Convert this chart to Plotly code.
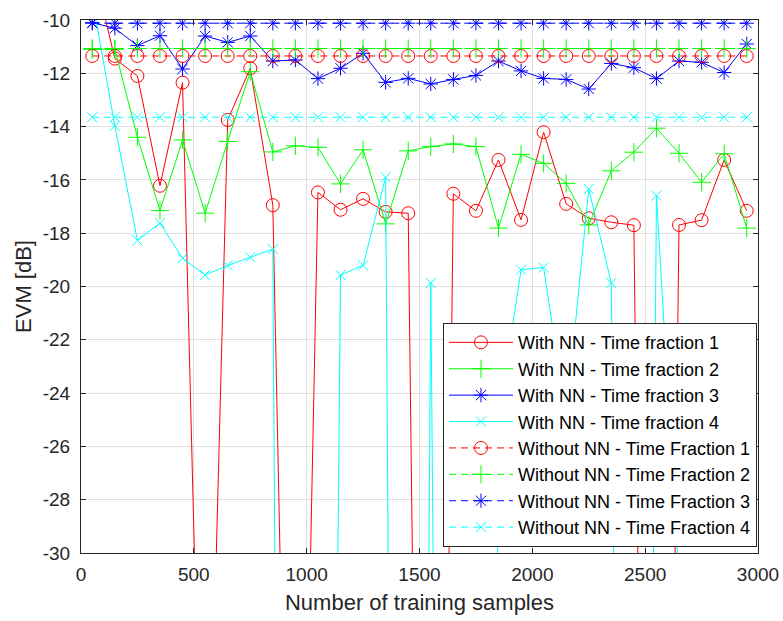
import plotly.graph_objects as go

samples = [50, 150, 250, 350, 450, 550, 650, 750, 850, 950,
           1050, 1150, 1250, 1350, 1450, 1550, 1650, 1750, 1850, 1950,
           2050, 2150, 2250, 2350, 2450, 2550, 2650, 2750, 2850, 2950]

with_nn_tf1 = [-7.9, -11.45, -12.1, -16.22, -12.35, -46.0, -13.75, -11.81, -16.95, -58.0,
               -16.47, -17.12, -16.71, -17.2, -17.25, -87.0, -16.52, -17.16, -15.25, -17.5,
               -14.21, -16.9, -17.44, -17.59, -17.7, -88.0, -17.69, -17.51, -15.25, -17.16]
with_nn_tf2 = [-11.1, -11.1, -14.4, -17.15, -14.5, -17.25, -14.56, -11.94, -14.95, -14.72,
               -14.78, -16.15, -14.87, -17.65, -14.91, -14.75, -14.65, -14.75, -17.81, -15.04,
               -15.38, -16.13, -17.69, -15.66, -14.96, -14.06, -15.0, -16.09, -15.02, -17.81]
with_nn_tf3 = [-10.1, -10.31, -10.96, -10.59, -11.84, -10.6, -10.84, -10.6, -11.54, -11.5,
               -12.2, -11.81, -11.25, -12.34, -12.19, -12.4, -12.23, -12.08, -11.54, -11.91,
               -12.19, -12.23, -12.59, -11.63, -11.79, -12.2, -11.54, -11.59, -11.97, -10.9]
with_nn_tf4 = [-9.2, -13.97, -18.27, -17.62, -18.94, -19.57, -19.21, -18.9, -18.6, -150.0,
               -110.0, -19.57, -19.21, -15.9, -145.0, -19.87, -120.0, -150.0, -25.0, -19.37,
               -19.29, -24.9, -16.34, -19.87, -120.0, -16.59, -31.0, -40.0, -38.0, -45.0]

without_nn_tf1 = [-11.35, -11.35, -11.35, -11.35, -11.35, -11.35, -11.35, -11.35, -11.35, -11.35,
                  -11.35, -11.35, -11.35, -11.35, -11.35, -11.35, -11.35, -11.35, -11.35, -11.35,
                  -11.35, -11.35, -11.35, -11.35, -11.35, -11.35, -11.35, -11.35, -11.35, -11.35]
without_nn_tf2 = [-11.07, -11.07, -11.07, -11.07, -11.07, -11.07, -11.07, -11.07, -11.07, -11.07,
                  -11.07, -11.07, -11.07, -11.07, -11.07, -11.07, -11.07, -11.07, -11.07, -11.07,
                  -11.07, -11.07, -11.07, -11.07, -11.07, -11.07, -11.07, -11.07, -11.07, -11.07]
without_nn_tf3 = [-10.12, -10.12, -10.12, -10.12, -10.12, -10.12, -10.12, -10.12, -10.12, -10.12,
                  -10.12, -10.12, -10.12, -10.12, -10.12, -10.12, -10.12, -10.12, -10.12, -10.12,
                  -10.12, -10.12, -10.12, -10.12, -10.12, -10.12, -10.12, -10.12, -10.12, -10.12]
without_nn_tf4 = [-13.65, -13.65, -13.65, -13.65, -13.65, -13.65, -13.65, -13.65, -13.65, -13.65,
                  -13.65, -13.65, -13.65, -13.65, -13.65, -13.65, -13.65, -13.65, -13.65, -13.65,
                  -13.65, -13.65, -13.65, -13.65, -13.65, -13.65, -13.65, -13.65, -13.65, -13.65]

series_names = ["With NN - Time fraction 1", "With NN - Time fraction 2",
                "With NN - Time fraction 3", "With NN - Time fraction 4",
                "Without NN - Time Fraction 1", "Without NN - Time Fraction 2",
                "Without NN - Time Fraction 3", "Without NN - Time Fraction 4"]

x_tick_vals = [0, 500, 1000, 1500, 2000, 2500, 3000]
x_tick_text = ["0", "500", "1000", "1500", "2000", "2500", "3000"]
y_tick_vals = [-30, -28, -26, -24, -22, -20, -18, -16, -14, -12, -10]
y_tick_text = ["-30", "-28", "-26", "-24", "-22", "-20", "-18", "-16", "-14", "-12", "-10"]

colors = ["#ff0000", "#00ff00", "#0000ff", "#00ffff"]
symbols = ["circle-open", "cross-thin-open", "asterisk-open", "x-thin-open"]
sizes = [13, 13, 12, 10]

all_series = [with_nn_tf1, with_nn_tf2, with_nn_tf3, with_nn_tf4,
              without_nn_tf1, without_nn_tf2, without_nn_tf3, without_nn_tf4]

fig = go.Figure()
for i, ys in enumerate(all_series):
    k = i % 4
    dash = "solid" if i < 4 else "7px,5px"
    fig.add_trace(go.Scatter(
        x=samples, y=ys, name=series_names[i], mode="lines+markers",
        line=dict(color=colors[k], width=1, dash=dash),
        marker=dict(symbol=symbols[k], size=sizes[k], color=colors[k],
                    line=dict(color=colors[k], width=1)),
    ))

font_family = "Liberation Sans, Arial, Helvetica, sans-serif"
axis_color = "#262626"

fig.update_layout(
    width=783, height=621,
    margin=dict(l=81, r=25, t=20, b=68, pad=0, autoexpand=False),
    paper_bgcolor="white", plot_bgcolor="white",
    font=dict(family=font_family, size=19, color=axis_color),
    showlegend=True,
    legend=dict(x=0.9985, xanchor="right", y=0.011, yanchor="bottom",
                bgcolor="white", bordercolor=axis_color, borderwidth=1,
                font=dict(size=18, color="#000000"), itemwidth=64,
                tracegroupgap=0),
)
fig.update_xaxes(
    range=[0, 3000], tickvals=x_tick_vals, ticktext=x_tick_text,
    showgrid=True, gridcolor="#dfdfdf", gridwidth=1, zeroline=False,
    showline=True, linecolor=axis_color, linewidth=1, mirror="ticks",
    ticks="inside", ticklen=5, tickcolor=axis_color, automargin=False,
    title=dict(text="Number of training samples", font=dict(size=22), standoff=10),
    ticklabelstandoff=4,
)
fig.update_yaxes(
    range=[-30, -10], tickvals=y_tick_vals, ticktext=y_tick_text,
    showgrid=True, gridcolor="#dfdfdf", gridwidth=1, zeroline=False,
    showline=True, linecolor=axis_color, linewidth=1, mirror="ticks",
    ticks="inside", ticklen=5, tickcolor=axis_color, automargin=False,
    title=dict(text="EVM [dB]", font=dict(size=22), standoff=5),
    ticklabelstandoff=6,
)

fig.write_html("out.html")
